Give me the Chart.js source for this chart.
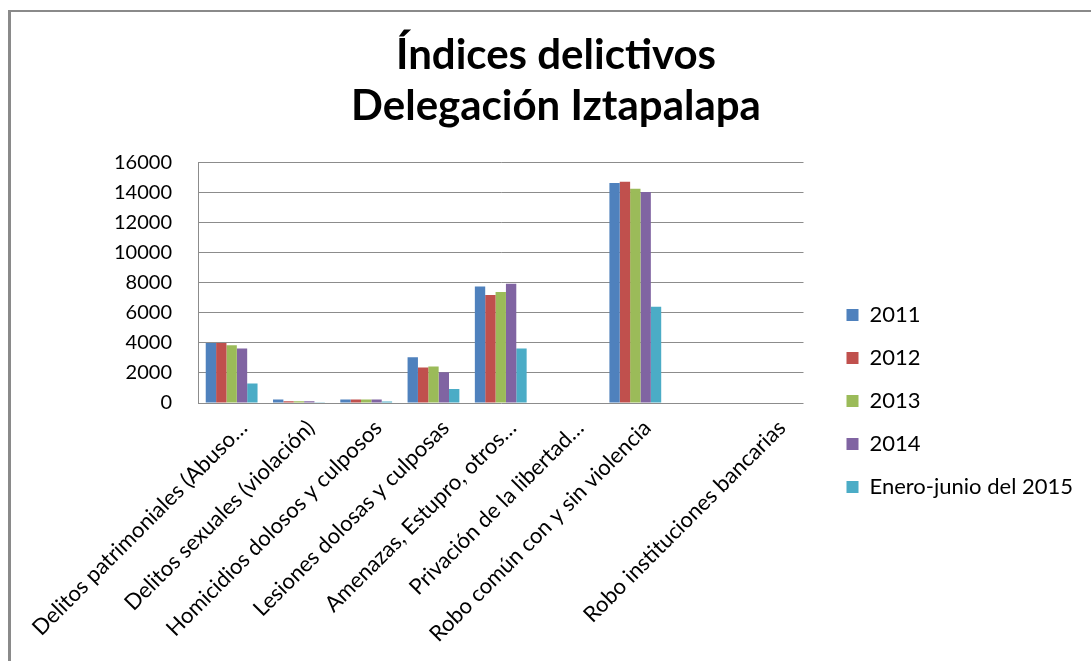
<!DOCTYPE html>
<html lang="es">
<head>
    <meta charset="UTF-8">
    <title>Índices delictivos Delegación Iztapalapa</title>
    <script src="https://cdn.jsdelivr.net/npm/chart.js@4.4.1/dist/chart.umd.min.js"></script>
    <style>
        body { margin: 0; background: #fff; }
        #wrap { position: relative; width: 1091px; height: 661px; overflow: hidden; }
        #frame { position: absolute; left: 8px; top: 10px; width: 1200px; height: 800px;
                 border-left: 3px solid #8a8a8a; border-top: 2px solid #8a8a8a; pointer-events: none; }
    </style>
</head>
<body>
<div id="wrap">
    <canvas id="chart" width="1091" height="661"></canvas>
    <div id="frame"></div>
</div>
<script>
// categories (one blank slot before the last one, as in the original sheet)
const categorias = [
    'Delitos patrimoniales (Abuso…',
    'Delitos sexuales (violación)',
    'Homicidios dolosos y culposos',
    'Lesiones dolosas y culposas',
    'Amenazas, Estupro, otros…',
    'Privación de la libertad…',
    'Robo común con y sin violencia',
    '',
    'Robo instituciones bancarias'
];
const series = ['2011', '2012', '2013', '2014', 'Enero-junio del 2015'];
const v2011 = [4000, 240, 240, 3050, 7750, 0, 14650, null, 0];
const v2012 = [3990, 110, 240, 2360, 7190, 0, 14730, null, 0];
const v2013 = [3840, 110, 240, 2430, 7390, 0, 14260, null, 0];
const v2014 = [3620, 110, 240, 2050, 7930, 0, 14040, null, 0];
const v2015 = [1300, 20, 100, 930, 3620, 0, 6410, null, 0];
const yTicks = [0, 2000, 4000, 6000, 8000, 10000, 12000, 14000, 16000];
const colores = ['#4F81BD', '#C0504D', '#9BBB59', '#8064A2', '#4BACC6'];

const FONT = 'Lato, "Open Sans", sans-serif';
const valores = [v2011, v2012, v2013, v2014, v2015];

// nudge the legend away from the plot, like the Excel original
const legendShift = {
    id: 'legendShift',
    afterLayout(chart) {
        const lg = chart.legend;
        lg.left += 22;
        lg.right += 22;
        lg.top = 283;
        lg.bottom = 650;
    }
};

const ctx = document.getElementById('chart').getContext('2d');
new Chart(ctx, {
    type: 'bar',
    data: {
        labels: categorias,
        datasets: series.map((s, i) => ({
            label: s,
            data: valores[i],
            backgroundColor: colores[i],
            borderWidth: 0,
            categoryPercentage: 0.77,
            barPercentage: 1
        }))
    },
    plugins: [legendShift],
    options: {
        responsive: false,
        animation: false,
        layout: { padding: { left: 61, right: 40, top: 0, bottom: 0 } },
        plugins: {
            title: {
                display: true,
                text: ['Índices delictivos', 'Delegación Iztapalapa'],
                color: '#000',
                font: { family: FONT, size: 42, weight: 'bold', lineHeight: 1.21 },
                padding: { top: 30, bottom: 31 }
            },
            legend: {
                position: 'right',
                align: 'start',
                labels: {
                    color: '#000',
                    font: { family: FONT, size: 22 },
                    boxWidth: 12,
                    boxHeight: 12,
                    padding: 21
                }
            },
            tooltip: { enabled: false }
        },
        scales: {
            x: {
                grid: { display: false },
                border: { display: false },
                ticks: {
                    color: '#000',
                    font: { family: FONT, size: 22 },
                    minRotation: 45,
                    maxRotation: 45,
                    autoSkip: false,
                    padding: 4,
                    labelOffset: 12
                },
                afterFit: s => { s.height = 258; }
            },
            y: {
                min: 0,
                max: 16000,
                afterBuildTicks: s => { s.ticks = yTicks.map(v => ({ value: v })); },
                grid: { color: '#8c8c8c', lineWidth: 1, drawTicks: false },
                border: { display: true, color: '#8c8c8c', width: 1 },
                ticks: {
                    color: '#000',
                    font: { family: FONT, size: 20 },
                    padding: 26,
                    callback: v => String(v)
                },
                afterFit: s => { s.width = 137; }
            }
        }
    }
});
</script>
</body>
</html>
